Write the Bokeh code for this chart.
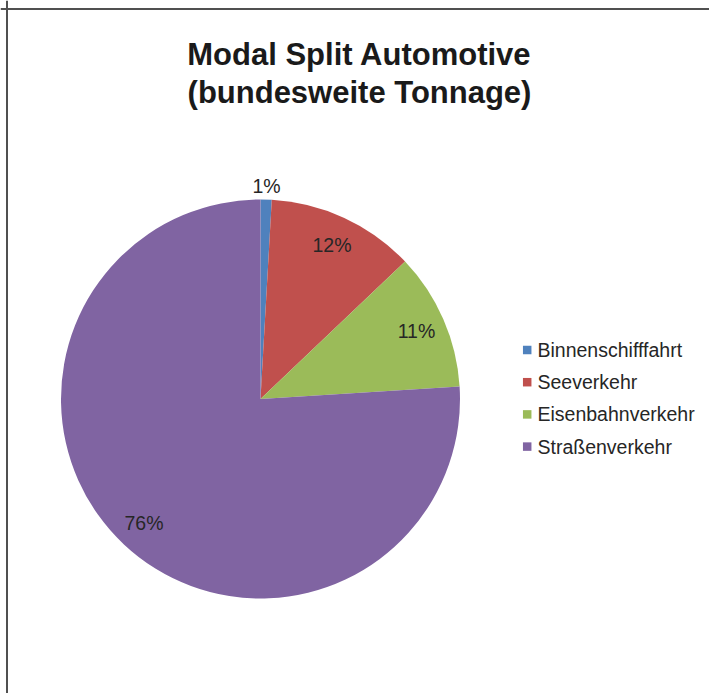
import math
from bokeh.plotting import figure
from bokeh.models import Range1d, Span, ColumnDataSource
from bokeh.core.properties import value
from bokeh.embed import file_html
from bokeh.resources import INLINE

# ---- data ----
categories = ["Binnenschifffahrt", "Seeverkehr", "Eisenbahnverkehr", "Straßenverkehr"]
shares = [0.9, 12.0, 11.1, 76.0]
colors = ["#4F81BD", "#C0504D", "#9BBB59", "#8064A2"]
title_lines = ["Modal Split Automotive", "(bundesweite Tonnage)"]

W, H = 709, 693
FONT = "Liberation Sans"

p = figure(width=W, height=H, output_backend="svg", toolbar_location=None,
           x_range=Range1d(0, W), y_range=Range1d(0, H),
           x_axis_type=None, y_axis_type=None, min_border=0)
p.grid.visible = False
p.outline_line_color = None
p.background_fill_color = "white"
p.border_fill_color = "white"

# chart border (only top/left visible in the crop)
p.add_layout(Span(location=6.5, dimension="height", line_color="#505050", line_width=2))
p.add_layout(Span(location=H - 8.5, dimension="width", line_color="#505050", line_width=2))

# ---- pie ----
cx, cy, R = 260, H - 398.5, 199.5
total = sum(shares)
starts, ends, mids = [], [], []
cum = 0.0
for s in shares:
    f0 = cum / total
    cum += s
    f1 = cum / total
    starts.append(math.pi / 2 - f0 * 2 * math.pi)
    ends.append(math.pi / 2 - f1 * 2 * math.pi)
    mids.append(math.pi / 2 - (f0 + f1) / 2 * 2 * math.pi)

src = ColumnDataSource(dict(cat=categories, start=starts, end=ends, color=colors))
p.wedge(x=cx, y=cy, radius=R, radius_units="screen", start_angle="start", end_angle="end",
        direction="clock", fill_color="color", line_color=None, source=src)

# data labels
lx, ly, lt = [], [], []
for s, m in zip(shares, mids):
    rf = 1.07 if s / total < 0.05 else 0.853
    lx.append(cx + rf * R * math.cos(m))
    ly.append(cy + rf * R * math.sin(m))
    lt.append(f"{round(s / total * 100):.0f}%")
p.text(x=lx, y=ly, text=lt, text_align="center", text_baseline="middle",
       text_font=value(FONT), text_font_size="19.5px", text_color="#262626")

# title
p.text(x=[359, 359], y=[H - 54, H - 92], text=title_lines, text_align="center",
       text_baseline="alphabetic", text_font=value(FONT), text_font_style="bold",
       text_font_size="31px", text_color="#1a1a1a")

# legend
row_y = [H - (349.5 + i * 32.2) for i in range(len(categories))]
p.rect(x=[526.7] * len(categories), y=row_y, width=8.5, height=8.5,
       width_units="screen", height_units="screen", fill_color=colors, line_color=None)
p.text(x=[537] * len(categories), y=row_y, text=categories, text_align="left",
       text_baseline="middle", text_font=value(FONT), text_font_size="19.5px",
       text_color="#262626")

open("out.html", "w").write(file_html(p, INLINE))
